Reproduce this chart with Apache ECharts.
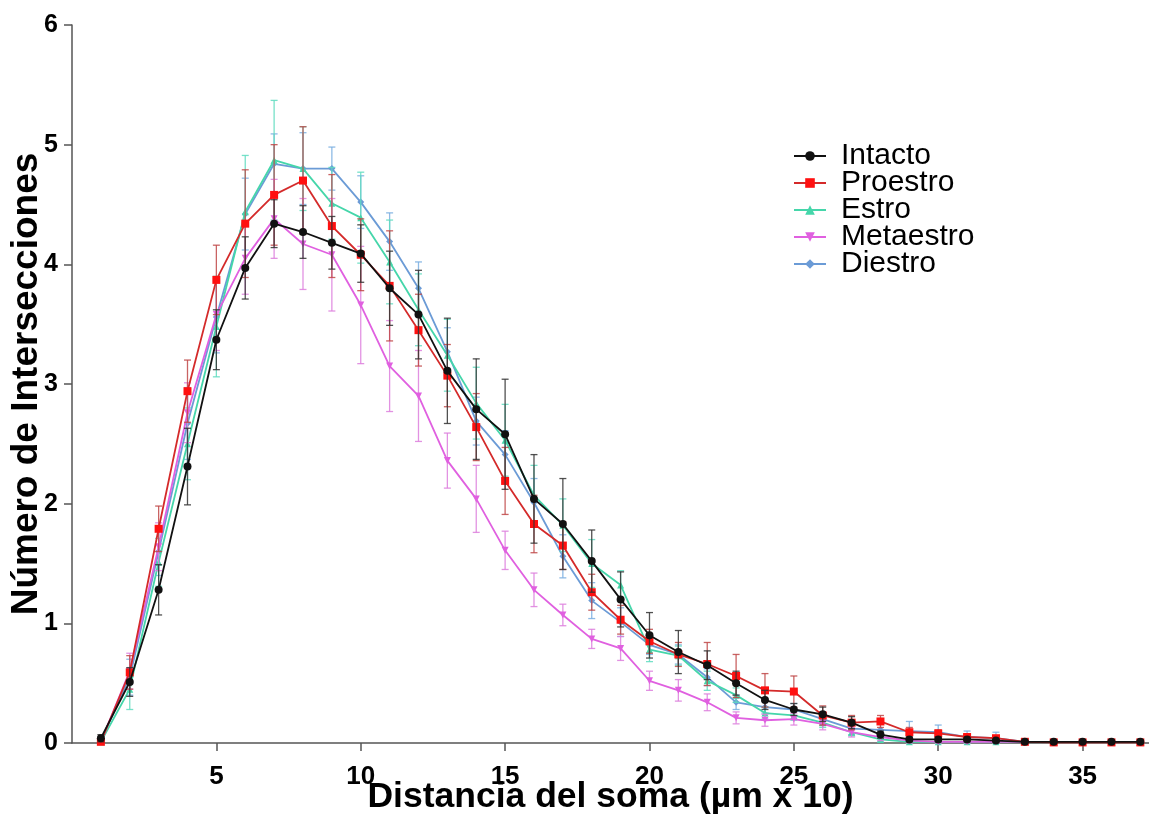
<!DOCTYPE html>
<html>
<head>
<meta charset="utf-8">
<script src="https://cdn.jsdelivr.net/npm/echarts@6/dist/echarts.min.js"></script>
<style>
html,body{margin:0;padding:0;background:#fff;}
#chart{width:1149px;height:815px;}
</style>
</head>
<body>
<div id="chart"></div>
<script>
// ---- data ----
const distances = [1,2,3,4,5,6,7,8,9,10,11,12,13,14,15,16,17,18,19,20,21,22,23,24,25,26,27,28,29,30,31,32,33,34,35,36,37];
const xTickValues = [5,10,15,20,25,30,35];

const intacto    = [0.04,0.51,1.28,2.31,3.37,3.97,4.34,4.27,4.18,4.09,3.80,3.58,3.11,2.79,2.58,2.04,1.83,1.52,1.20,0.90,0.76,0.65,0.50,0.36,0.28,0.24,0.17,0.07,0.03,0.03,0.03,0.02,0.01,0.01,0.01,0.01,0.01];
const intactoErr = [0.03,0.12,0.21,0.32,0.25,0.26,0.20,0.22,0.22,0.24,0.31,0.37,0.44,0.42,0.46,0.37,0.38,0.26,0.23,0.19,0.18,0.12,0.10,0.08,0.05,0.06,0.05,0.03,0.02,0.02,0.02,0.01,0.01,0.01,0.01,0.01,0.01];

const proestro    = [0.01,0.59,1.79,2.94,3.87,4.34,4.58,4.70,4.32,4.08,3.82,3.45,3.07,2.64,2.19,1.83,1.65,1.26,1.03,0.85,0.74,0.66,0.56,0.44,0.43,0.23,0.17,0.18,0.09,0.08,0.05,0.04,0.01,0.005,0.005,0.005,0.005];
const proestroErr = [0.01,0.14,0.19,0.26,0.29,0.45,0.42,0.45,0.43,0.30,0.46,0.30,0.26,0.28,0.28,0.24,0.20,0.15,0.12,0.10,0.10,0.18,0.18,0.14,0.13,0.08,0.06,0.05,0.04,0.03,0.02,0.02,0.01,0.005,0.005,0.005,0.005];

const estro    = [0.01,0.45,1.51,2.50,3.48,4.44,4.87,4.80,4.51,4.39,4.02,3.62,3.24,2.84,2.53,2.07,1.82,1.50,1.32,0.78,0.73,0.52,0.40,0.25,0.23,0.17,0.09,0.03,0.01,0.01,0.01,0.01,0.01];
const estroErr = [0.01,0.17,0.20,0.30,0.42,0.47,0.50,0.35,0.30,0.38,0.35,0.30,0.30,0.30,0.30,0.25,0.22,0.20,0.12,0.10,0.08,0.08,0.06,0.05,0.04,0.04,0.03,0.02,0.01,0.01,0.01,0.01,0.01];

const metaestro    = [0.01,0.60,1.64,2.76,3.58,4.05,4.38,4.17,4.08,3.66,3.15,2.90,2.36,2.04,1.61,1.28,1.07,0.87,0.79,0.52,0.44,0.34,0.21,0.19,0.20,0.16,0.09,0.05,0.02,0.01,0.01,0.01,0.01];
const metaestroErr = [0.01,0.15,0.20,0.25,0.30,0.30,0.33,0.38,0.47,0.49,0.38,0.38,0.23,0.28,0.16,0.14,0.09,0.08,0.10,0.08,0.09,0.07,0.05,0.05,0.05,0.05,0.04,0.03,0.02,0.01,0.01,0.01,0.01];

const diestro    = [0.02,0.55,1.60,2.67,3.56,4.42,4.84,4.80,4.80,4.52,4.19,3.80,3.27,2.69,2.41,2.01,1.56,1.19,1.01,0.82,0.74,0.55,0.34,0.30,0.28,0.20,0.12,0.11,0.10,0.09,0.05,0.04,0.01];
const diestroErr = [0.02,0.15,0.20,0.30,0.30,0.30,0.25,0.30,0.18,0.22,0.24,0.22,0.20,0.20,0.20,0.20,0.18,0.15,0.12,0.08,0.08,0.07,0.06,0.05,0.05,0.05,0.05,0.05,0.08,0.06,0.05,0.05,0.01];

const seriesNames = ['Intacto','Proestro','Estro','Metaestro','Diestro'];

// ---- styling ----
const groups = [
  {name:'Diestro',   vals:diestro,   errs:diestroErr,   line:'#6b9bd6', err:'#7aaee0', symbol:'diamond',  size:7,  rot:0},
  {name:'Estro',     vals:estro,     errs:estroErr,     line:'#45d6aa', err:'#5fdcc0', symbol:'triangle', size:7,  rot:0},
  {name:'Metaestro', vals:metaestro, errs:metaestroErr, line:'#e060e0', err:'#dd7fdd', symbol:'triangle', size:7,  rot:180},
  {name:'Proestro',  vals:proestro,  errs:proestroErr,  line:'#d42a2a', err:'#c04848', symbol:'rect',     size:8,  rot:0, fill:'#ff1010'},
  {name:'Intacto',   vals:intacto,   errs:intactoErr,   line:'#111111', err:'#333333', symbol:'circle',   size:8,  rot:0}
];

function makeErrRender(color){
  return function(params, api){
    const x = api.value(0), lo = api.value(1), hi = api.value(2);
    const t = api.coord([x, hi]), b = api.coord([x, lo]);
    const hw = 3.5;
    const st = {stroke:color, lineWidth:1.3, opacity:0.85};
    return {type:'group', children:[
      {type:'line', shape:{x1:t[0],y1:t[1],x2:b[0],y2:b[1]}, style:st},
      {type:'line', shape:{x1:t[0]-hw,y1:t[1],x2:t[0]+hw,y2:t[1]}, style:st},
      {type:'line', shape:{x1:b[0]-hw,y1:b[1],x2:b[0]+hw,y2:b[1]}, style:st}
    ]};
  };
}

const series = [];
groups.forEach((g, i) => {
  series.push({
    type:'custom',
    name:g.name + ' SEM',
    renderItem: makeErrRender(g.err),
    encode:{x:0, y:[1,2]},
    data: g.vals.map((v, k) => [distances[k], Math.max(0, v - g.errs[k]), v + g.errs[k]]),
    z: 2 + i*2,
    silent:true
  });
  series.push({
    type:'line',
    name:g.name,
    data: g.vals.map((v, k) => [distances[k], v]),
    symbol:g.symbol,
    symbolSize:g.size,
    symbolRotate:g.rot,
    showAllSymbol:true,
    lineStyle:{color:g.line, width:1.8},
    itemStyle:{color:g.fill || g.line, borderWidth:0},
    z: 3 + i*2,
    animation:false
  });
});

const chart = echarts.init(document.getElementById('chart'), null, {renderer:'canvas'});
chart.setOption({
  animation:false,
  backgroundColor:'#ffffff',
  color: groups.map(g => g.line),
  grid:{left:72, right:0, top:25, bottom:72, outerBoundsMode:'none'},
  legend:{
    data: seriesNames,
    orient:'vertical',
    left:788,
    top:136,
    itemWidth:32,
    itemHeight:12,
    itemGap:-3,
    textStyle:{fontFamily:'Liberation Sans, Arial, sans-serif', fontSize:30, color:'#000', padding:[0,0,0,10]}
  },
  xAxis:{
    type:'value',
    min:0, max:37.3, interval:5,
    name:'Distancia del soma (µm x 10)',
    nameLocation:'middle',
    nameGap:36,
    nameMoveOverlap:false,
    nameTextStyle:{fontFamily:'Liberation Sans, Arial, sans-serif', fontSize:35.5, fontWeight:'bold', color:'#000'},
    axisLine:{lineStyle:{color:'#555', width:1.5}},
    axisTick:{show:true, length:8, customValues:xTickValues, lineStyle:{color:'#555', width:1.5}},
    axisLabel:{customValues:xTickValues, margin:21, fontFamily:'Liberation Sans, Arial, sans-serif', fontSize:26, fontWeight:'bold', color:'#000'},
    splitLine:{show:false}
  },
  yAxis:{
    type:'value',
    min:0, max:6, interval:1,
    name:'Número de Intersecciones',
    nameLocation:'middle',
    nameGap:27,
    nameMoveOverlap:false,
    nameTextStyle:{fontFamily:'Liberation Sans, Arial, sans-serif', fontSize:37, fontWeight:'bold', color:'#000'},
    axisLine:{show:true, lineStyle:{color:'#555', width:1.5}},
    axisTick:{show:true, length:8, lineStyle:{color:'#555', width:1.5}},
    axisLabel:{margin:14, fontFamily:'Liberation Sans, Arial, sans-serif', fontSize:25, fontWeight:'bold', color:'#000'},
    splitLine:{show:false}
  },
  series: series
});
</script>
</body>
</html>
